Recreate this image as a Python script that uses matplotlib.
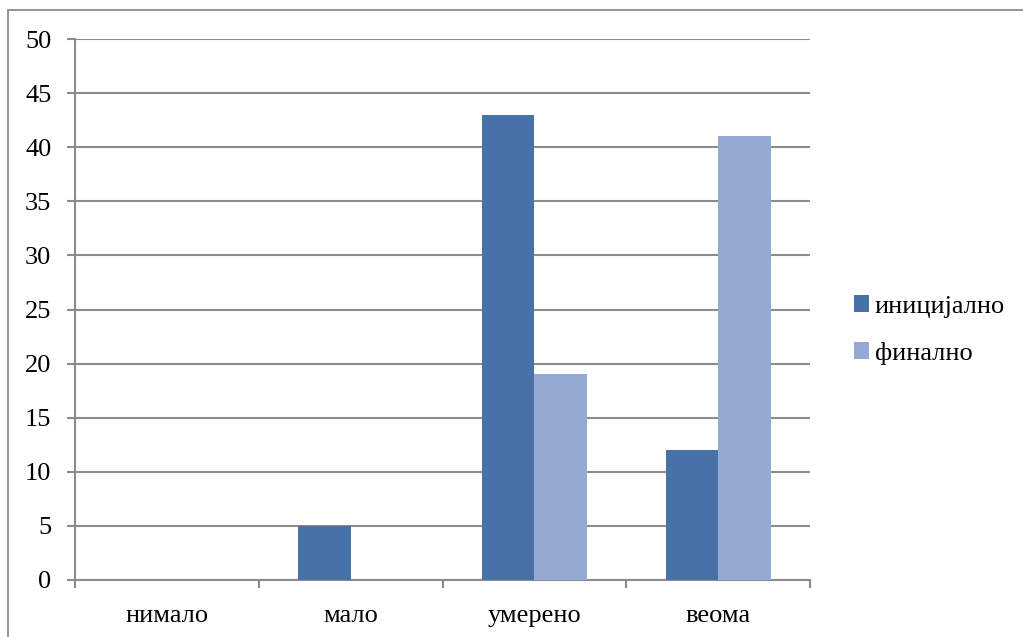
import matplotlib
matplotlib.use("Agg")
import matplotlib.pyplot as plt
from matplotlib.patches import Rectangle
import numpy as np

categories = ["нимало", "мало", "умерено", "веома"]
initial = [0, 5, 43, 12]
final = [0, 0, 19, 41]
series_names = ["иницијално", "финално"]
y_ticks = [0, 5, 10, 15, 20, 25, 30, 35, 40, 45, 50]

W, H = 1023, 637
plt.rcParams["font.family"] = ["Liberation Serif", "DejaVu Serif"]

fig = plt.figure(figsize=(W / 100, H / 100), dpi=100)

# outer frame of the chart area
fig.patches.append(Rectangle((8 / W, -0.2), 1.5, 1.2 - 10 / H,
                             transform=fig.transFigure, fill=False,
                             edgecolor="#8c8c8c", linewidth=1.3))

ax = fig.add_axes([75 / W, 1 - 580 / H, (810 - 75) / W, (580 - 39) / H])

grid_color = "#8c8c8c"
fs = 19
x = np.arange(len(categories))
w = 1 / 3.5
ax.bar(x - w / 2, initial, width=w, color="#4672A8", label=series_names[0], zorder=3)
ax.bar(x + w / 2, final, width=w, color="#94AAD3", label=series_names[1], zorder=3)

ax.set_xlim(-0.5, len(categories) - 0.5)
ax.set_ylim(0, 50)
ax.set_yticks(y_ticks)
ax.yaxis.grid(True, color=grid_color, linewidth=1.5, zorder=0)

# category boundary ticks and centred labels
ax.set_xticks(np.arange(-0.5, len(categories), 1.0))
ax.set_xticklabels([])
ax.set_xticks(x, minor=True)
ax.set_xticklabels(categories, minor=True, fontsize=fs)
ax.tick_params(axis="x", which="minor", length=0, pad=18)
ax.tick_params(axis="x", which="major", length=6, width=1.5, color=grid_color, direction="out")
ax.tick_params(axis="y", length=6, width=1.5, color=grid_color, direction="out", labelsize=fs, pad=11)

for s in ["top", "right"]:
    ax.spines[s].set_visible(False)
for s in ["left", "bottom"]:
    ax.spines[s].set_color(grid_color)
    ax.spines[s].set_linewidth(1.5)

leg = ax.legend(loc="center left", bbox_to_anchor=(1.045, 0.462), frameon=False,
                fontsize=fs, handlelength=0.6, handleheight=0.6, handletextpad=0.2,
                labelspacing=0.9, borderaxespad=0)

fig.savefig("out.png", dpi=100)
